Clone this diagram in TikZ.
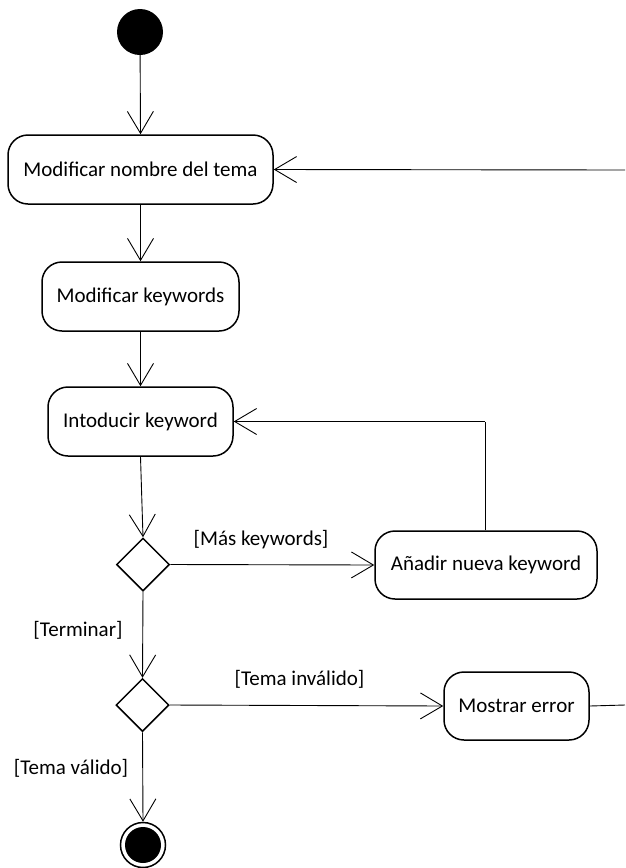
\documentclass[tikz,border=0pt]{standalone}
\usepackage{fontspec}
\setmainfont{Carlito}
\usetikzlibrary{arrows.meta,shapes.geometric}
\begin{document}
\begin{tikzpicture}[x=1pt,y=-1pt,
  every node/.style={font=\fontsize{21}{24}\selectfont},
  action/.style={draw,line width=1.5pt,rounded corners=20pt,inner sep=0pt,align=center},
  decision/.style={draw,line width=1.5pt,shape=diamond,minimum size=53pt,inner sep=0pt},
  flow/.style={line width=0.9pt,-{Straight Barb[length=22pt,width=26pt,line width=0.9pt]}},
  plain/.style={line width=0.9pt},
  guard/.style={inner sep=1pt}]
\useasboundingbox (0,0) rectangle (625,868);

% start and end points
\node[circle,fill=black,minimum size=46pt,inner sep=0pt] (start) at (140,32) {};
\node[circle,draw,line width=1.5pt,minimum size=45pt,inner sep=0pt] (stop) at (143,845) {};
\fill (stop.center) circle (18pt);

% actions
\node[action,minimum width=265pt,minimum height=69pt] (nombre) at (140.5,169.5) {Modificar nombre del tema};
\node[action,minimum width=197pt,minimum height=69pt] (kw) at (140.5,296.5) {Modificar keywords};
\node[action,minimum width=185pt,minimum height=69pt] (intro) at (140.5,421.5) {Intoducir keyword};
\node[action,minimum width=222pt,minimum height=68pt] (nueva) at (486,565) {Añadir nueva keyword};
\node[action,minimum width=145pt,minimum height=68pt] (error) at (516.5,706) {Mostrar error};

% decisions
\node[decision] (d1) at (143,564.5) {};
\node[decision] (d2) at (142.5,705) {};

% loose ends running off the right margin
\coordinate (backin) at (625,170);
\coordinate (backout) at (625,705);
\coordinate (loop) at (485,421.5);

% flows
\draw[flow] (start) -- (nombre.north);
\draw[flow] (backin) -- (nombre.east);
\draw[flow] (nombre.south) -- (kw.north);
\draw[flow] (kw.south) -- (intro.north);
\draw[flow] (intro.south) -- (d1.north);
\draw[flow] (d1.east) -- (nueva.west);
\draw[plain] (nueva.north -| loop) -- (loop);
\draw[flow] (loop) -- (intro.east);
\draw[flow] (d1.south) -- (d2.north);
\draw[flow] (d2.east) -- (error.west);
\draw[plain] (error.east) -- (backout);
\draw[flow] (d2.south) -- (stop.north);

% guards
\node[guard] at (261,540) {[Más keywords]};
\node[guard] at (78,630) {[Terminar]};
\node[guard] at (299.5,679) {[Tema inválido]};
\node[guard] at (71,768) {[Tema válido]};
\end{tikzpicture}
\end{document}
